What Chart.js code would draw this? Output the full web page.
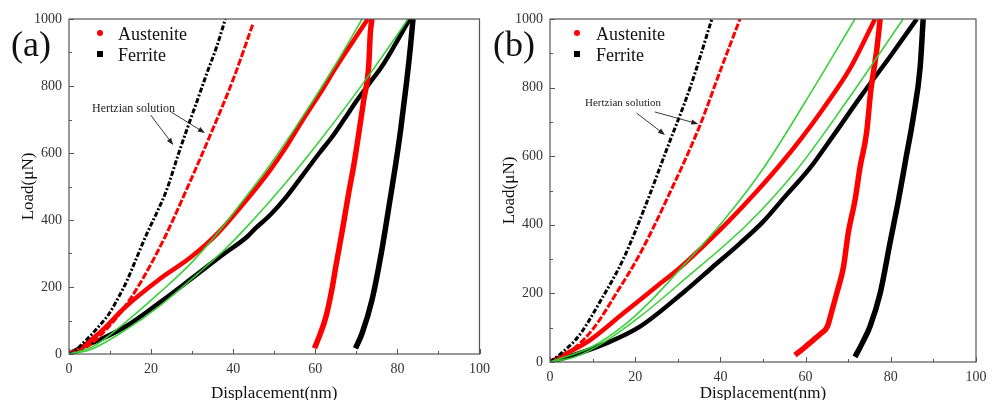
<!DOCTYPE html>
<html><head><meta charset="utf-8">
<script src="https://cdn.jsdelivr.net/npm/chart.js@4.4.1/dist/chart.umd.min.js"></script>
<style>
html,body{margin:0;padding:0;background:#fff;}
#wrap{position:relative;width:995px;height:400px;overflow:hidden;font-family:"Liberation Serif","Times New Roman",serif;}
canvas{position:absolute;top:0;}
.t{position:absolute;line-height:1;white-space:nowrap;color:#111;}
.panel{font-size:36px;}
.leg{font-size:18px;}
.hz{font-size:12px;color:#222;}
.dot{position:absolute;width:6px;height:6px;border-radius:50%;background:#f00;}
.sq{position:absolute;width:6px;height:6px;background:#000;}
</style></head>
<body><div id="wrap">
<canvas id="ca" width="497" height="400" style="left:0"></canvas>
<canvas id="cb" width="505" height="400" style="left:490px"></canvas>
<div class="t panel" style="left:11px;top:26px">(a)</div>
<div class="dot" style="left:97px;top:30px"></div><div class="t leg" style="left:118px;top:25px">Austenite</div>
<div class="sq" style="left:97px;top:51px"></div><div class="t leg" style="left:118px;top:46px">Ferrite</div>
<div class="t hz" style="left:92px;top:102px">Hertzian solution</div>
<div class="t panel" style="left:493px;top:26px">(b)</div>
<div class="dot" style="left:574px;top:30px"></div><div class="t leg" style="left:596px;top:25px">Austenite</div>
<div class="sq" style="left:574px;top:51px"></div><div class="t leg" style="left:596px;top:46px">Ferrite</div>
<div class="t hz" style="left:585px;top:97px;font-size:11px">Hertzian solution</div>
</div>
<script>
// ---- tick values ----
const xTickValues = [0, 20, 40, 60, 80, 100];
const xMinorValues = [10, 30, 50, 70, 90];
const yTickValues = [0, 200, 400, 600, 800, 1000];
const yMinorValues = [100, 300, 500, 700, 900];

// ---- panel (a) ----
const aFerHertzX = [0, 1.5, 2.6, 4.2, 5.8, 7.8, 9.8, 12.0, 14.2, 16.5, 19.0, 21.5, 23.8, 26.6, 29.0, 31.0, 33.5, 36.0, 38.1];
const aFerHertzY = [0, 8, 22, 42, 62, 90, 121, 168, 221, 288, 360, 425, 490, 595, 680, 748, 835, 918, 1000];
const aAusHertzX = [0, 2.5, 5.0, 8.2, 13.0, 17.8, 23.4, 28.6, 34.6, 40.0, 44.8];
const aAusHertzY = [0, 12, 27, 62, 131, 221, 350, 490, 659, 820, 985];
const aAusLoadX = [0, 2.0, 4.2, 8.2, 13.8, 21.8, 29.8, 36.2, 43.4, 49.0, 53.0, 57.0, 61.0, 65.0, 69.0, 72.8];
const aAusLoadY = [0, 10, 30, 72, 141, 221, 290, 360, 462, 549, 620, 700, 775, 855, 930, 1000];
const aAusUnloadX = [59.8, 61.2, 62.6, 64.0, 65.0, 66.6, 68.2, 69.4, 70.6, 71.8, 73.0, 73.4, 73.8];
const aAusUnloadY = [17, 60, 111, 190, 261, 370, 485, 565, 659, 758, 858, 957, 1000];
const aFerLoadX = [0, 1.8, 4.0, 7.4, 13.8, 21.8, 29.5, 37.3, 43.4, 45.4, 49.0, 53.0, 57.0, 61.0, 64.2, 67.0, 70.2, 73.0, 76.2, 79.5, 83.0];
const aFerLoadY = [0, 12, 25, 42, 82, 151, 222, 295, 350, 375, 415, 470, 535, 600, 650, 700, 758, 805, 858, 925, 1000];
const aFerUnloadX = [69.8, 71.4, 73.8, 76.2, 78.2, 79.5, 80.8, 82.2, 83.2, 83.8];
const aFerUnloadY = [17, 62, 161, 310, 460, 560, 670, 808, 920, 1000];
const aAusFitX = [0, 5.8, 13.8, 21.8, 29.8, 36.2, 43.4, 49.0, 57.0, 65.0, 71.4];
const aAusFitY = [0, 22, 95, 180, 272, 361, 474, 565, 710, 865, 1000];
const aFerFitX = [0, 5.0, 13.8, 21.8, 31.4, 37.8, 43.4, 49.0, 55.0, 61.0, 67.0, 73.0, 78.0, 82.6];
const aFerFitY = [0, 12, 72, 141, 240, 310, 381, 457, 543, 635, 731, 831, 918, 1000];

// ---- panel (b) ----
const bFerHertzX = [0, 3.1, 7.0, 11.7, 17.2, 22.7, 27.4, 32.9, 38.0];
const bFerHertzY = [0, 30, 80, 175, 300, 465, 620, 800, 1000];
const bAusHertzX = [0, 5.5, 10.2, 15.7, 21.1, 28.2, 35.2, 40.0, 44.6];
const bAusHertzY = [0, 38, 98, 203, 315, 495, 690, 850, 1000];
const bAusLoadX = [0, 3.9, 9.4, 17.2, 25.0, 30.5, 36.0, 42.3, 48.5, 54.0, 59.0, 64.2, 70.4, 76.3];
const bAusLoadY = [0, 25, 64, 142, 220, 275, 338, 415, 497, 575, 652, 740, 855, 1000];
const bAusUnloadX = [57.5, 59.5, 61.8, 63.5, 65.1, 66.2, 67.3, 68.9, 70.0, 71.6, 72.8, 74.3, 75.3, 76.7, 77.5];
const bAusUnloadY = [20, 40, 64, 82, 103, 150, 200, 278, 375, 472, 569, 667, 790, 910, 1000];
const bFerLoadX = [0, 5.5, 13.3, 21.1, 31.5, 38.0, 44.6, 50.1, 55.0, 61.0, 66.5, 73.0, 79.8, 86.1];
const bFerLoadY = [0, 20, 55, 103, 205, 275, 346, 410, 480, 565, 660, 775, 890, 1000];
const bFerUnloadX = [71.6, 73.3, 75.1, 77.5, 79.8, 81.8, 83.5, 85.3, 86.9, 87.6];
const bFerUnloadY = [15, 55, 103, 200, 346, 472, 590, 715, 861, 1000];
const bAusFitX = [0, 10.0, 17.2, 23.0, 30.5, 40.7, 50.1, 59.9, 71.6];
const bAusFitY = [0, 45, 105, 170, 270, 412, 565, 758, 1000];
const bFerFitX = [0, 6.0, 13.0, 21.1, 31.5, 46.2, 57.9, 69.2, 82.9];
const bFerFitY = [0, 15, 60, 132, 240, 400, 560, 752, 1000];

// annotation arrows in data coordinates [x1,y1,x2,y2]
const aArrows = [[19.9, 713, 25.4, 624], [24.9, 722, 33.1, 660]];
const bArrows = [[20.3, 726, 27.0, 662], [24.6, 729, 34.8, 694]];

const F = '"Liberation Serif","Times New Roman",serif';
const RED = '#ff0000', BLACK = '#000000', GREEN = 'rgba(50,205,50,0.95)';

const pts = (xs, ys) => xs.map((v, i) => ({x: v, y: ys[i]}));
const mk = (xs, ys, color, width, dash, order) => ({
  data: pts(xs, ys), showLine: true, borderColor: color, backgroundColor: color,
  borderWidth: width, borderDash: dash || [], pointRadius: 0,
  cubicInterpolationMode: 'monotone', order: order, fill: false
});

const framePlugin = {
  id: 'frame',
  afterDatasetsDraw(chart, args, opts) {
    const {ctx, chartArea: a, scales: {x, y}} = chart;
    ctx.save();
    ctx.strokeStyle = '#555';
    ctx.lineWidth = 1.2;
    ctx.strokeRect(a.left, a.top, a.right - a.left, a.bottom - a.top);
    ctx.lineWidth = 1;
    const seg = (x1, y1, x2, y2) => { ctx.beginPath(); ctx.moveTo(x1, y1); ctx.lineTo(x2, y2); ctx.stroke(); };
    xTickValues.forEach(v => { const p = Math.round(x.getPixelForValue(v)) + 0.5; seg(p, a.bottom, p, a.bottom - 5); });
    xMinorValues.forEach(v => { const p = Math.round(x.getPixelForValue(v)) + 0.5; seg(p, a.bottom, p, a.bottom - 3); });
    yTickValues.forEach(v => { const p = Math.round(y.getPixelForValue(v)) + 0.5; seg(a.left, p, a.left + 5, p); });
    yMinorValues.forEach(v => { const p = Math.round(y.getPixelForValue(v)) + 0.5; seg(a.left, p, a.left + 3, p); });
    // arrows
    ctx.strokeStyle = '#222'; ctx.fillStyle = '#222'; ctx.lineWidth = 0.9;
    (opts.arrows || []).forEach(([x1, y1, x2, y2]) => {
      const X1 = x.getPixelForValue(x1), Y1 = y.getPixelForValue(y1);
      const X2 = x.getPixelForValue(x2), Y2 = y.getPixelForValue(y2);
      const ang = Math.atan2(Y2 - Y1, X2 - X1);
      const L = 7, W = 2.6;
      seg(X1, Y1, X2 - Math.cos(ang) * L * 0.8, Y2 - Math.sin(ang) * L * 0.8);
      ctx.beginPath();
      ctx.moveTo(X2, Y2);
      ctx.lineTo(X2 - Math.cos(ang) * L - Math.sin(ang) * W, Y2 - Math.sin(ang) * L + Math.cos(ang) * W);
      ctx.lineTo(X2 - Math.cos(ang) * L + Math.sin(ang) * W, Y2 - Math.sin(ang) * L - Math.cos(ang) * W);
      ctx.closePath(); ctx.fill();
    });
    ctx.restore();
  }
};

function makeChart(id, datasets, L, arrows) {
  return new Chart(document.getElementById(id), {
    type: 'scatter',
    data: {datasets},
    options: {
      responsive: false, animation: false, devicePixelRatio: 1,
      layout: {padding: {left: 0, top: 19, right: L.right, bottom: 0}},
      plugins: {legend: {display: false}, tooltip: {enabled: false}, frame: {arrows}},
      scales: {
        x: {
          type: 'linear', min: 0, max: 100,
          afterBuildTicks: s => { s.ticks = xTickValues.map(v => ({value: v})); },
          afterFit: s => { s.height = L.xh; },
          grid: {display: false, drawTicks: false}, border: {display: false},
          ticks: {padding: 7, color: '#333', font: {family: F, size: 14}, callback: v => String(v), maxRotation: 0, autoSkip: false},
          title: {display: true, text: 'Displacement(nm)', color: '#111', font: {family: F, size: 17, lineHeight: 0.8}, padding: 0}
        },
        y: {
          type: 'linear', min: 0, max: 1000,
          afterBuildTicks: s => { s.ticks = yTickValues.map(v => ({value: v})); },
          afterFit: s => { s.width = L.yw; },
          grid: {display: false, drawTicks: false}, border: {display: false},
          ticks: {padding: 7, color: '#333', font: {family: F, size: 14}, callback: v => String(v), autoSkip: false},
          title: {display: true, text: 'Load(μN)', color: '#111', font: {family: F, size: 17, lineHeight: 1}, padding: {top: L.ytp, bottom: 0}}
        }
      }
    },
    plugins: [framePlugin]
  });
}

makeChart('ca', [
  mk(aAusFitX, aAusFitY, GREEN, 1.6, null, 0),
  mk(aFerFitX, aFerFitY, GREEN, 1.6, null, 0),
  mk(aFerHertzX, aFerHertzY, BLACK, 3, [5, 2, 2, 2], 1),
  mk(aAusHertzX, aAusHertzY, RED, 3, [7, 2], 1),
  mk(aAusLoadX, aAusLoadY, RED, 4.5, null, 2),
  mk(aAusUnloadX, aAusUnloadY, RED, 5.5, null, 2),
  mk(aFerLoadX, aFerLoadY, BLACK, 4.5, null, 3),
  mk(aFerUnloadX, aFerUnloadY, BLACK, 5.5, null, 3)
], {right: 11, xh: 46, yw: 69, ytp: 20}, aArrows);

makeChart('cb', [
  mk(bAusFitX, bAusFitY, GREEN, 1.6, null, 0),
  mk(bFerFitX, bFerFitY, GREEN, 1.6, null, 0),
  mk(bFerHertzX, bFerHertzY, BLACK, 3, [5, 2, 2, 2], 1),
  mk(bAusHertzX, bAusHertzY, RED, 3, [7, 2], 1),
  mk(bAusLoadX, bAusLoadY, RED, 4.5, null, 2),
  mk(bAusUnloadX, bAusUnloadY, RED, 5.5, null, 2),
  mk(bFerLoadX, bFerLoadY, BLACK, 4.5, null, 3),
  mk(bFerUnloadX, bFerUnloadY, BLACK, 5.5, null, 3)
], {right: 19, xh: 38, yw: 60, ytp: 11}, bArrows);
</script>
</body></html>
